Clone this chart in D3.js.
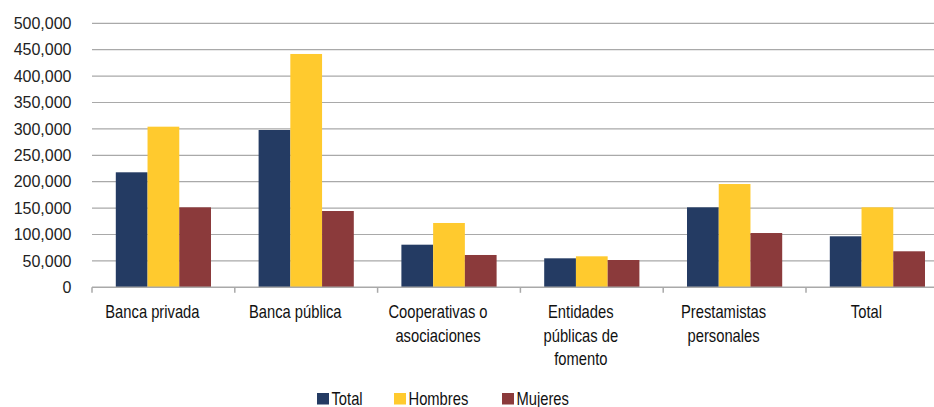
<!DOCTYPE html>
<html><head><meta charset="utf-8">
<script src="https://cdn.jsdelivr.net/npm/d3@7"></script>
<style>
html,body{margin:0;padding:0;background:#fff;overflow:hidden}
</style></head>
<body><svg id="c" width="934" height="407"></svg>
<script>
const categories = [["Banca privada"],["Banca pública"],["Cooperativas o","asociaciones"],["Entidades","públicas de","fomento"],["Prestamistas","personales"],["Total"]];
const seriesNames = ["Total","Hombres","Mujeres"];
const totalValues   = [217800, 297900, 80700, 54900, 151500, 96600];
const hombresValues = [304200, 441900, 121800, 58700, 195600, 151500];
const mujeresValues = [151500, 144500, 61200, 51700, 102800, 68200];
const colors = ["#243B63","#FFCA2E","#8B3A3B"];
const yTicks = [0,50000,100000,150000,200000,250000,300000,350000,400000,450000,500000];

(function(){
const seriesValues = [totalValues, hombresValues, mujeresValues];
const svg = d3.select("#c");
const left = 92, step = 142.8, bottom = 287.3, topY = 23.3;
const FONT = "'Liberation Sans', Arial, sans-serif";
const NARROW = 0.82;
const catKeys = categories.map(c => c.join(" "));
const x0 = d3.scaleBand().domain(catKeys).range([left, left + step*categories.length]).paddingInner(0).paddingOuter(0);
const x1 = d3.scaleBand().domain(seriesNames).range([0, x0.bandwidth()]).paddingInner(0).paddingOuter(0.75);
const y = d3.scaleLinear().domain([0, 500000]).range([bottom, topY]);

svg.append("g").selectAll("line").data(yTicks.filter(t => t > 0)).join("line")
  .attr("x1", left).attr("x2", 934).attr("y1", d => y(d)).attr("y2", d => y(d))
  .attr("stroke", "#A9A9A9").attr("stroke-width", 1.2);

svg.append("g").selectAll("text").data(yTicks).join("text")
  .attr("x", 71.5).attr("y", d => y(d)).attr("dy", "0.36em").attr("text-anchor", "end")
  .attr("font-family", FONT).attr("font-size", 16).attr("fill", "#222")
  .text(d => d3.format(",")(d));

const g = svg.append("g");
catKeys.forEach((k, i) => {
  seriesNames.forEach((s, j) => {
    const v = seriesValues[j][i];
    g.append("rect").attr("x", x0(k) + x1(s)).attr("width", x1.bandwidth())
      .attr("y", y(v)).attr("height", y(0) - y(v)).attr("fill", colors[j]);
  });
});

svg.append("line").attr("x1", left).attr("x2", 934).attr("y1", bottom).attr("y2", bottom)
  .attr("stroke", "#A9A9A9").attr("stroke-width", 1.5);
svg.append("g").selectAll("line").data(catKeys).join("line")
  .attr("x1", d => x0(d)).attr("x2", d => x0(d)).attr("y1", bottom).attr("y2", bottom + 5.5)
  .attr("stroke", "#A9A9A9").attr("stroke-width", 1.5);

const lab = svg.append("g").attr("font-family", FONT).attr("font-size", 18).attr("fill", "#111");
categories.forEach((lines, i) => {
  const cx = x0(catKeys[i]) + x0.bandwidth()/2 - 11;
  lines.forEach((ln, li) => {
    lab.append("text").attr("text-anchor", "middle")
      .attr("transform", `translate(${cx},${318 + li*23.5}) scale(${NARROW},1)`).text(ln);
  });
});

const legX = [317, 394, 502];
const leg = svg.append("g").attr("font-family", FONT).attr("font-size", 18).attr("fill", "#111");
seriesNames.forEach((s, j) => {
  leg.append("rect").attr("x", legX[j]).attr("y", 393).attr("width", 12).attr("height", 11.5).attr("fill", colors[j]);
  leg.append("text").attr("transform", `translate(${legX[j] + 14.5},404.5) scale(${NARROW},1)`).text(s);
});
})();
</script></body></html>
